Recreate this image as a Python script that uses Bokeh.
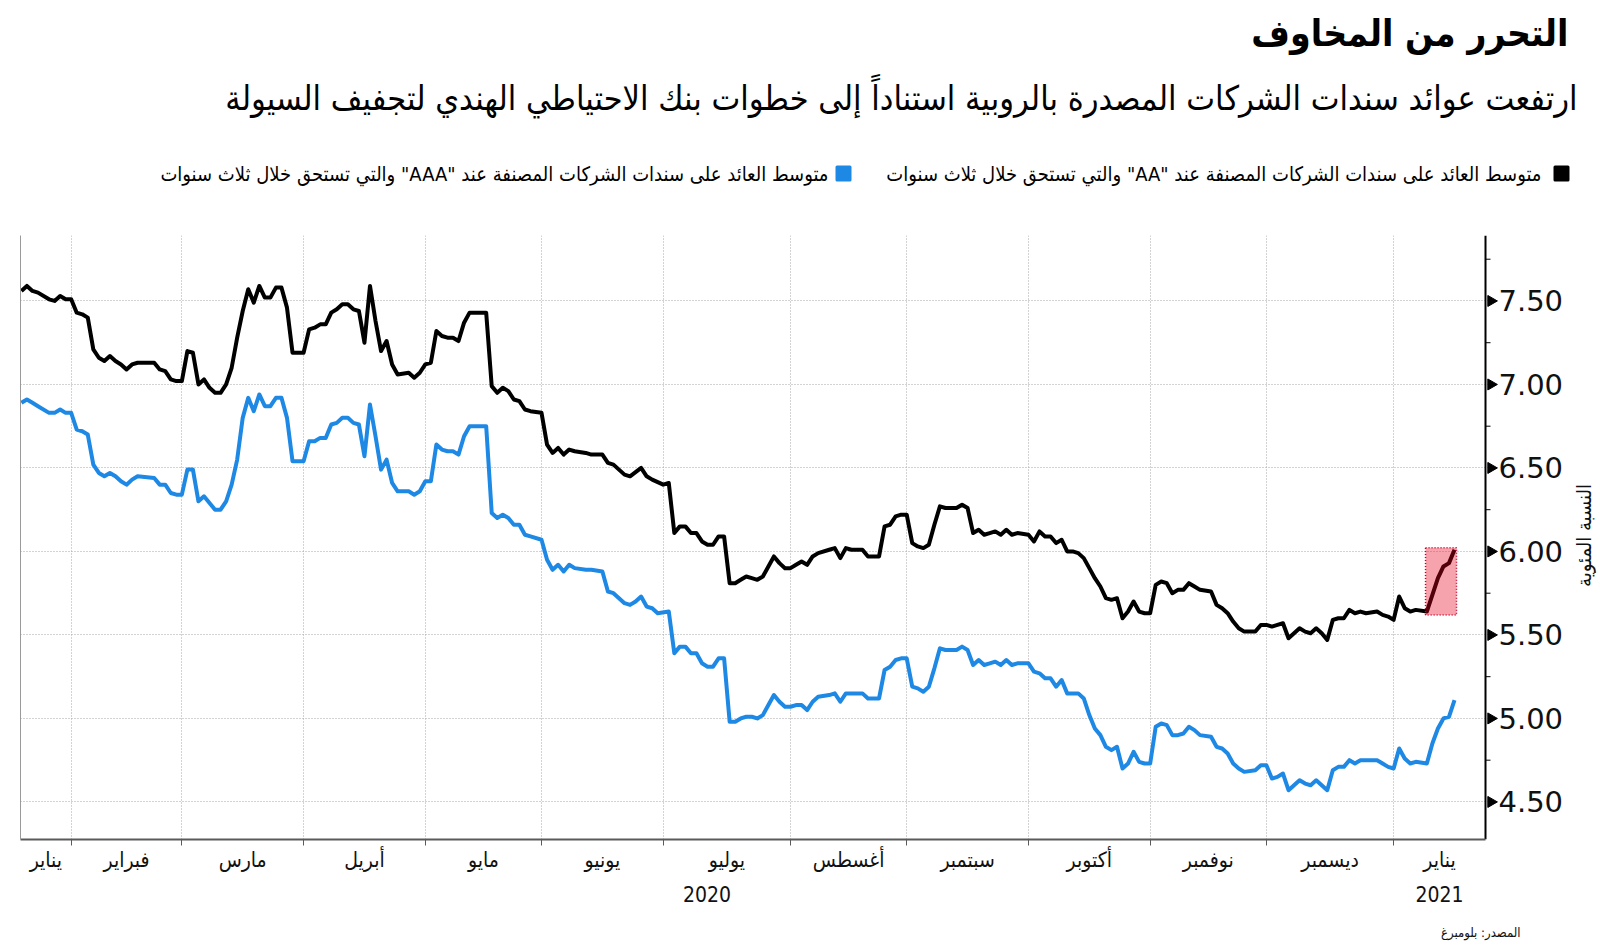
import numpy as np
from bokeh.plotting import figure
from bokeh.layouts import column, row
from bokeh.models import (LinearAxis, FixedTicker, Range1d, Grid, Title,
                          CustomJSTickFormatter, NumeralTickFormatter)
from bokeh.core.properties import value
from bokeh.embed import file_html
from bokeh.resources import INLINE

# ---------------- text ----------------
RLE, PDF = "\u202B", "\u202C"   # keep mixed Arabic/Latin lines in right-to-left order
TITLE = "التحرر من المخاوف"
SUBTITLE = "ارتفعت عوائد سندات الشركات المصدرة بالروبية استناداً إلى خطوات بنك الاحتياطي الهندي لتجفيف السيولة"
AA_LABEL = 'متوسط العائد على سندات الشركات المصنفة عند "AA" والتي تستحق خلال ثلاث سنوات'
AAA_LABEL = 'متوسط العائد على سندات الشركات المصنفة عند "AAA" والتي تستحق خلال ثلاث سنوات'
Y_LABEL = "النسبة المئوية"
SOURCE = "المصدر: بلومبرغ"

# ---------------- calendar ----------------
START = "2020-01-21"  # first trading day in the chart (x = trading-day number from here)
MONTH_FIRSTS = ["2020-01-01", "2020-02-01", "2020-03-01", "2020-04-01", "2020-05-01",
                "2020-06-01", "2020-07-01", "2020-08-01", "2020-09-01", "2020-10-01",
                "2020-11-01", "2020-12-01", "2021-01-01"]
MONTH_NAMES = ["يناير", "فبراير", "مارس", "أبريل", "مايو", "يونيو", "يوليو",
               "أغسطس", "سبتمبر", "أكتوبر", "نوفمبر", "ديسمبر", "يناير"]
YEARS = ["2020", "2021"]

# ---------------- data (trading-day number, yield %) ----------------
AA_DAY = [0, 1, 2, 3, 5, 6, 7, 8, 9, 10, 11, 12, 13, 14, 15, 16, 17, 18, 19, 20,
          21, 24, 25, 26, 27, 28, 29, 30, 31, 32, 33, 34, 35, 36, 37, 38, 39, 40, 41, 42,
          43, 44, 45, 46, 47, 48, 49, 50, 51, 52, 53, 54, 55, 56, 57, 58, 59, 60, 61, 62,
          63, 64, 65, 66, 67, 68, 70, 71, 72, 73, 74, 75, 76, 77, 78, 79, 80, 81, 84, 85,
          86, 87, 88, 89, 90, 91, 92, 94, 95, 96, 97, 98, 99, 100, 102, 103, 105, 106, 107, 109,
          110, 112, 113, 114, 116, 117, 118, 119, 120, 121, 122, 123, 124, 125, 126, 127, 128, 129, 130, 131,
          132, 133, 134, 135, 136, 137, 138, 139, 140, 141, 142, 143, 144, 146, 147, 148, 149, 150, 152, 153,
          155, 156, 157, 158, 159, 160, 161, 162, 163, 164, 165, 166, 167, 168, 169, 170, 171, 172, 173, 174,
          175, 176, 177, 178, 179, 180, 182, 183, 184, 185, 186, 187, 188, 189, 190, 191, 192, 193, 194, 195,
          196, 197, 198, 199, 200, 201, 202, 203, 204, 205, 206, 207, 208, 209, 210, 211, 212, 213, 215, 216,
          217, 218, 219, 220, 221, 223, 224, 225, 226, 227, 228, 229, 230, 231, 232, 233, 234, 235, 236, 237,
          238, 239, 240, 241, 242, 243, 245, 246, 247, 248, 249, 250, 251, 252, 254, 255, 256, 257, 258, 259]
AA_YIELD = [7.56, 7.59, 7.56, 7.55, 7.51, 7.50, 7.53, 7.51, 7.51, 7.43, 7.42, 7.40, 7.21, 7.16, 7.14, 7.17, 7.14, 7.12, 7.09, 7.12,
            7.13, 7.13, 7.09, 7.08, 7.03, 7.02, 7.02, 7.20, 7.19, 7.00, 7.03, 6.98, 6.95, 6.95, 7.00, 7.10, 7.28, 7.44, 7.57, 7.49,
            7.59, 7.52, 7.52, 7.58, 7.58, 7.46, 7.19, 7.19, 7.19, 7.33, 7.34, 7.36, 7.36, 7.43, 7.45, 7.48, 7.48, 7.45, 7.44, 7.25,
            7.59, 7.38, 7.20, 7.26, 7.12, 7.06, 7.07, 7.04, 7.07, 7.12, 7.13, 7.32, 7.29, 7.28, 7.28, 7.26, 7.37, 7.43, 7.43, 6.99,
            6.95, 6.98, 6.96, 6.91, 6.90, 6.85, 6.84, 6.83, 6.64, 6.59, 6.62, 6.58, 6.61, 6.60, 6.59, 6.58, 6.58, 6.53, 6.52, 6.46,
            6.45, 6.50, 6.45, 6.43, 6.40, 6.41, 6.11, 6.15, 6.15, 6.11, 6.11, 6.06, 6.04, 6.04, 6.09, 6.09, 5.81, 5.81, 5.83, 5.85,
            5.84, 5.83, 5.85, 5.91, 5.97, 5.93, 5.90, 5.90, 5.92, 5.94, 5.92, 5.97, 5.99, 6.01, 6.02, 5.96, 6.02, 6.01, 6.01, 5.97,
            5.97, 6.15, 6.16, 6.21, 6.22, 6.22, 6.05, 6.03, 6.02, 6.04, 6.16, 6.27, 6.26, 6.26, 6.26, 6.28, 6.26, 6.11, 6.13, 6.10,
            6.11, 6.12, 6.10, 6.13, 6.10, 6.11, 6.10, 6.06, 6.12, 6.09, 6.09, 6.05, 6.07, 6.00, 6.00, 5.99, 5.96, 5.90, 5.84, 5.79,
            5.72, 5.71, 5.72, 5.60, 5.64, 5.70, 5.64, 5.63, 5.63, 5.80, 5.82, 5.81, 5.75, 5.77, 5.77, 5.81, 5.79, 5.77, 5.76, 5.68,
            5.66, 5.63, 5.58, 5.54, 5.52, 5.52, 5.56, 5.56, 5.55, 5.56, 5.57, 5.48, 5.51, 5.54, 5.52, 5.51, 5.54, 5.51, 5.47, 5.59,
            5.60, 5.60, 5.65, 5.63, 5.64, 5.63, 5.64, 5.62, 5.61, 5.59, 5.73, 5.66, 5.64, 5.65, 5.64, 5.74, 5.84, 5.91, 5.93, 6.01]

AAA_DAY = [0, 1, 2, 3, 5, 6, 7, 8, 9, 10, 11, 12, 13, 14, 15, 16, 17, 18, 19, 20,
           21, 24, 25, 26, 27, 28, 29, 30, 31, 32, 33, 34, 35, 36, 37, 38, 39, 40, 41, 42,
           43, 44, 45, 46, 47, 48, 49, 51, 52, 53, 54, 55, 56, 57, 58, 59, 60, 61, 62, 63,
           64, 65, 66, 67, 68, 70, 71, 72, 73, 74, 75, 76, 77, 78, 79, 80, 81, 84, 85, 86,
           87, 88, 89, 90, 91, 92, 94, 95, 96, 97, 98, 99, 100, 102, 103, 105, 106, 107, 109, 110,
           111, 112, 113, 114, 115, 117, 118, 119, 120, 121, 122, 123, 124, 125, 126, 127, 128, 129, 130, 131,
           132, 133, 134, 135, 136, 137, 138, 139, 140, 141, 142, 143, 144, 146, 147, 148, 149, 150, 152, 153,
           155, 156, 157, 158, 159, 160, 161, 162, 163, 164, 165, 166, 167, 168, 169, 170, 171, 172, 173, 174,
           175, 176, 177, 178, 179, 180, 182, 183, 184, 185, 186, 187, 188, 189, 190, 191, 192, 193, 194, 195,
           196, 197, 198, 199, 200, 201, 202, 203, 204, 205, 206, 207, 208, 209, 210, 211, 212, 213, 215, 216,
           217, 218, 219, 220, 221, 223, 224, 225, 226, 227, 228, 229, 230, 231, 232, 233, 234, 235, 236, 237,
           238, 239, 240, 241, 242, 243, 245, 246, 247, 248, 249, 250, 251, 252, 254, 255, 256, 257, 258, 259]
AAA_YIELD = [6.89, 6.91, 6.89, 6.87, 6.83, 6.83, 6.85, 6.83, 6.83, 6.73, 6.72, 6.70, 6.52, 6.47, 6.45, 6.47, 6.45, 6.42, 6.40, 6.43,
             6.45, 6.44, 6.40, 6.40, 6.35, 6.34, 6.34, 6.49, 6.49, 6.30, 6.33, 6.29, 6.25, 6.25, 6.30, 6.40, 6.55, 6.80, 6.92, 6.84,
             6.94, 6.87, 6.87, 6.92, 6.92, 6.80, 6.54, 6.54, 6.66, 6.66, 6.68, 6.68, 6.76, 6.77, 6.80, 6.80, 6.77, 6.76, 6.57, 6.88,
             6.69, 6.49, 6.55, 6.41, 6.36, 6.36, 6.34, 6.36, 6.42, 6.42, 6.64, 6.61, 6.60, 6.60, 6.58, 6.69, 6.75, 6.75, 6.23, 6.20,
             6.22, 6.20, 6.16, 6.16, 6.10, 6.09, 6.07, 5.95, 5.89, 5.92, 5.88, 5.92, 5.90, 5.89, 5.89, 5.88, 5.76, 5.75, 5.69, 5.68,
             5.70, 5.73, 5.67, 5.66, 5.63, 5.64, 5.39, 5.43, 5.43, 5.39, 5.39, 5.33, 5.31, 5.31, 5.36, 5.36, 4.98, 4.98, 5.00, 5.01,
             5.01, 5.00, 5.02, 5.08, 5.14, 5.10, 5.07, 5.07, 5.08, 5.08, 5.05, 5.10, 5.13, 5.14, 5.15, 5.10, 5.15, 5.15, 5.15, 5.12,
             5.12, 5.29, 5.31, 5.35, 5.36, 5.36, 5.19, 5.18, 5.16, 5.19, 5.30, 5.42, 5.41, 5.41, 5.41, 5.43, 5.41, 5.32, 5.35, 5.32,
             5.33, 5.34, 5.32, 5.35, 5.32, 5.33, 5.33, 5.28, 5.27, 5.24, 5.24, 5.19, 5.23, 5.15, 5.15, 5.15, 5.12, 5.02, 4.94, 4.90,
             4.83, 4.81, 4.83, 4.70, 4.73, 4.80, 4.74, 4.73, 4.73, 4.95, 4.97, 4.96, 4.90, 4.90, 4.91, 4.95, 4.93, 4.90, 4.89, 4.83,
             4.82, 4.79, 4.73, 4.70, 4.68, 4.69, 4.72, 4.72, 4.64, 4.65, 4.67, 4.57, 4.60, 4.63, 4.61, 4.60, 4.63, 4.60, 4.57, 4.69,
             4.71, 4.71, 4.75, 4.73, 4.75, 4.75, 4.75, 4.73, 4.71, 4.70, 4.82, 4.76, 4.73, 4.74, 4.73, 4.85, 4.94, 5.00, 5.01, 5.11]

HIGHLIGHT_FROM_DAY = 254     # start of the January 2021 jump that is highlighted
Y_MAJOR = [4.5, 5.0, 5.5, 6.0, 6.5, 7.0, 7.5]
Y_MINOR = [4.75, 5.25, 5.75, 6.25, 6.75, 7.25, 7.75]

# ---------------- style / layout ----------------
BLACK = "#000000"
BLUE = "#1e88e5"
GRID = "#a6a6a6"
AR_FONT = "DejaVu Sans Condensed"
NUM_FONT = "DejaVu Sans"

PAGE_W = 1600
HEAD_H = 215

X_LO, X_AXIS = -0.16, 264.6
Y_LO, Y_HI = 4.275, 7.892
PLOT_W = 1465           # px between left frame edge and the value axis line
EXTRA_W = 13            # room for the tick triangles right of the axis line
FW, FH = PLOT_W + EXTRA_W, 604
PX = PLOT_W / (X_AXIS - X_LO)
X_HI = X_LO + FW / PX
LEFT_B, TOP_B, RIGHT_B = 20, 235 - HEAD_H, 70
SIDE_W = 30
SIDE_LABEL_NUDGE = -22   # measured correction so the rotated label sits on the frame centre

month_pos = np.busday_count(START, MONTH_FIRSTS).astype(float)
boundaries = list(month_pos[1:])
month_centers = []
for i in range(len(MONTH_NAMES)):
    lo = max(month_pos[i], X_LO)
    hi = month_pos[i + 1] if i + 1 < len(month_pos) else X_AXIS
    month_centers.append((lo + hi) / 2)
year_centers = [(X_LO + month_pos[-1]) / 2, (month_pos[-1] + X_AXIS) / 2]


def blank(fig):
    fig.outline_line_color = None
    fig.xgrid.visible = False
    fig.ygrid.visible = False
    return fig


# ================= header (title, subtitle, legend) =================
head = blank(figure(frame_width=PAGE_W, frame_height=HEAD_H,
                    x_range=Range1d(0, PAGE_W), y_range=Range1d(HEAD_H, 0),
                    x_axis_location=None, y_axis_location=None,
                    min_border_left=0, min_border_right=0, min_border_top=0, min_border_bottom=0,
                    output_backend="svg", toolbar_location=None, align="start"))

head.text(x=[1568], y=[33], text=[TITLE], text_font=value(AR_FONT), text_font_size=value("37px"),
          text_font_style="bold", text_align="right", text_baseline="middle", text_color=BLACK)
head.text(x=[1577], y=[97], text=[SUBTITLE], text_font=value(AR_FONT), text_font_size=value("34px"),
          text_align="right", text_baseline="middle", text_color=BLACK)
head.scatter(x=[1561, 843], y=[173, 173], marker="square", size=13,
             fill_color=[BLACK, BLUE], line_color=[BLACK, BLUE], line_width=3, line_join="round")
head.text(x=[1541, 828], y=[173, 173], text=[RLE + AA_LABEL + PDF, RLE + AAA_LABEL + PDF],
          text_font=value(AR_FONT), text_font_size=value("20px"),
          text_align="right", text_baseline="middle", text_color=BLACK)

# ================= main chart =================
p = blank(figure(frame_width=FW, frame_height=FH,
                 x_range=Range1d(X_LO, X_HI), y_range=Range1d(Y_LO, Y_HI),
                 x_axis_location=None, y_axis_location=None,
                 min_border_left=LEFT_B, min_border_top=TOP_B, min_border_right=RIGHT_B, min_border_bottom=40,
                 output_backend="svg", toolbar_location=None, align="start"))

vgrid = Grid(dimension=0, ticker=FixedTicker(ticks=boundaries),
             grid_line_color=GRID, grid_line_dash="1 2", grid_line_width=1)
hgrid = Grid(dimension=1, ticker=FixedTicker(ticks=Y_MAJOR),
             grid_line_color=GRID, grid_line_dash="1 2", grid_line_width=1)
p.add_layout(vgrid)
p.add_layout(hgrid)

# left thin frame line
lax = LinearAxis(ticker=FixedTicker(ticks=[]), axis_line_color="#9a9a9a", axis_line_width=1,
                 major_tick_line_color=None, minor_tick_line_color=None,
                 major_label_text_font_size="0px")
p.add_layout(lax, "left")

# bottom axis: month boundary ticks
xax1 = LinearAxis(ticker=FixedTicker(ticks=boundaries), formatter=CustomJSTickFormatter(code="return ''"),
                  bounds=(X_LO, X_AXIS),
                  axis_line_color="#5a5a5a", axis_line_width=2,
                  major_tick_line_color="#5a5a5a", major_tick_line_width=1,
                  major_tick_in=0, major_tick_out=6, minor_tick_line_color=None,
                  major_label_text_font_size="0px", major_label_standoff=0)
p.add_layout(xax1, "below")

name_fmt = """
let best = 0, bd = 1e9;
for (let i = 0; i < pos.length; i++) { const d = Math.abs(pos[i] - tick); if (d < bd) { bd = d; best = i; } }
return names[best];
"""
xax2 = LinearAxis(ticker=FixedTicker(ticks=month_centers),
                  formatter=CustomJSTickFormatter(args=dict(pos=month_centers, names=MONTH_NAMES), code=name_fmt),
                  axis_line_color=None, major_tick_line_color=None, minor_tick_line_color=None,
                  major_label_text_font=AR_FONT, major_label_text_font_size="21px",
                  major_label_text_color="#111111", major_label_standoff=-4)
p.add_layout(xax2, "below")
xax3 = LinearAxis(ticker=FixedTicker(ticks=year_centers),
                  formatter=CustomJSTickFormatter(args=dict(pos=year_centers, names=YEARS), code=name_fmt),
                  axis_line_color=None, major_tick_line_color=None, minor_tick_line_color=None,
                  major_label_text_font=AR_FONT, major_label_text_font_size="21px",
                  major_label_text_color="#111111", major_label_standoff=5)
p.add_layout(xax3, "below")

src = Title(text=SOURCE, align="right", offset=-22, text_font=AR_FONT, text_font_size="13px",
            text_font_style="normal", text_color="#111111", standoff=36)
p.add_layout(src, "below")

# right value axis (labels only; line and ticks drawn as glyphs)
yax = LinearAxis(ticker=FixedTicker(ticks=Y_MAJOR), formatter=NumeralTickFormatter(format="0.00"),
                 axis_line_color=None, major_tick_line_color=None, minor_tick_line_color=None,
                 major_tick_in=0, major_tick_out=0,
                 major_label_text_font=NUM_FONT, major_label_text_font_size="29px",
                 major_label_text_color="#111111", major_label_standoff=0)
p.add_layout(yax, "right")

# series
p.line(AAA_DAY, AAA_YIELD, line_color=BLUE, line_width=4, line_join="round")
p.line(AA_DAY, AA_YIELD, line_color=BLACK, line_width=4, line_join="round")

# highlight of the January jump
hi_idx = AA_DAY.index(HIGHLIGHT_FROM_DAY)
seg_y = AA_YIELD[hi_idx:]
p.quad(left=[HIGHLIGHT_FROM_DAY - 1.3 / PX], right=[AA_DAY[-1] + 2.0 / PX],
       bottom=[min(seg_y) - 0.02], top=[max(seg_y) + 0.012],
       fill_color="#e8001f", fill_alpha=0.36,
       line_color="#c4002a", line_dash="1 2", line_width=1.5)

# value-axis line, minor ticks and triangle major ticks
p.segment(x0=[X_AXIS], x1=[X_AXIS], y0=[Y_LO], y1=[Y_HI], line_color=BLACK, line_width=2)
p.segment(x0=[X_AXIS] * len(Y_MINOR), x1=[X_AXIS + 5 / PX] * len(Y_MINOR), y0=Y_MINOR, y1=Y_MINOR,
          line_color=BLACK, line_width=1)
p.scatter(x=[X_AXIS + 5.5 / PX] * len(Y_MAJOR), y=Y_MAJOR, marker="triangle", angle=-np.pi / 2,
          size=11, fill_color=BLACK, line_color=BLACK)

# ================= value-axis title (reads bottom-to-top, centred on the frame) =================
SIDE_H = TOP_B + FH
side = blank(figure(frame_width=SIDE_W, frame_height=SIDE_H,
                    x_range=Range1d(0, SIDE_W), y_range=Range1d(SIDE_H, 0),
                    x_axis_location=None, y_axis_location=None,
                    min_border_left=0, min_border_right=0, min_border_top=0, min_border_bottom=0,
                    output_backend="svg", toolbar_location=None, align="start"))
side.text(x=[SIDE_W / 2], y=[TOP_B + FH / 2 + SIDE_LABEL_NUDGE], text=[Y_LABEL], angle=np.pi / 2,
          text_font=value(AR_FONT), text_font_size=value("20px"),
          text_align="center", text_baseline="middle", text_color="#111111")

layout = column(head, row(p, side, align="start"), align="start")
open("out.html", "w").write(file_html(layout, INLINE))
